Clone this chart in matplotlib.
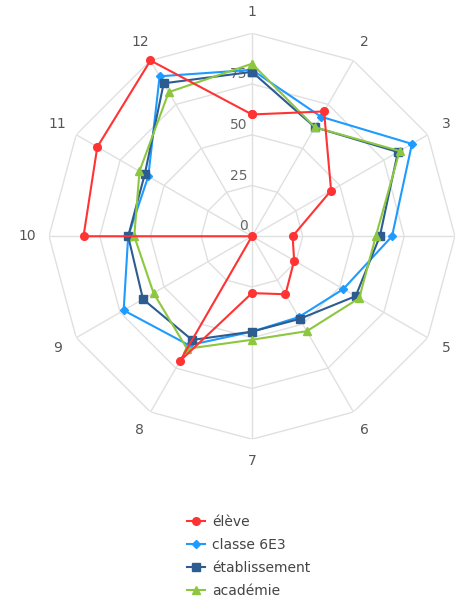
import numpy as np
import matplotlib
matplotlib.use("Agg")
import matplotlib.pyplot as plt

# axes 1..12 and the four series
axes_labels = ["1", "2", "3", "4", "5", "6", "7", "8", "9", "10", "11", "12"]
eleve = [60, 71, 45, 20, 24, 33, 28, 71, 0, 83, 88, 100]
classe = [82, 68, 91, 69, 52, 46, 47, 62, 73, 61, 59, 91]
etablissement = [81, 62, 83, 63, 59, 47, 47, 59, 62, 61, 61, 87]
academie = [85, 62, 84, 61, 61, 54, 51, 64, 56, 58, 64, 82]
ring_ticks = [0, 25, 50, 75, 100]

n = len(axes_labels)
theta = np.arange(n) * 2 * np.pi / n
theta_c = np.append(theta, theta[0])

fig = plt.figure(figsize=(4.71, 6.05), dpi=100)
ax = fig.add_axes([0.104, 0.274, 0.862, 0.671], polar=True)
ax.set_theta_zero_location("N")
ax.set_theta_direction(-1)
ax.set_ylim(0, 100)
ax.grid(False)
ax.spines["polar"].set_visible(False)
ax.set_xticks([])
ax.set_yticks([])
ax.patch.set_alpha(0)

# polygon grid
for r in ring_ticks[1:]:
    ax.plot(theta_c, [r] * (n + 1), color="#e0e0e0", lw=1, zorder=1)
for t in theta:
    ax.plot([t, t], [0, 100], color="#e0e0e0", lw=1, zorder=1)

# ring values along axis 1
for r in ring_ticks[:-1]:
    ax.annotate(str(r), xy=(0, r), xytext=(-3, 2), textcoords="offset points",
                ha="right", va="bottom", fontsize=10, color="#666666")

# axis labels
for t, lab in zip(theta, axes_labels):
    ax.text(t, 110.5, lab, ha="center", va="center", fontsize=10, color="#555555")

series = [
    ("classe 6E3", classe, "#1e9bff", "D", 4),
    ("établissement", etablissement, "#2d5c91", "s", 5.5),
    ("académie", academie, "#8dc63f", "^", 6),
    ("élève", eleve, "#ff3333", "o", 5.5),
]
lines = {}
for i, (name, vals, col, mk, ms) in enumerate(series):
    v = list(vals) + [vals[0]]
    ln, = ax.plot(theta_c, v, color=col, lw=1.5, marker=mk, markersize=ms,
                  zorder=3 + i, clip_on=False)
    lines[name] = ln

order = ["élève", "classe 6E3", "établissement", "académie"]
fig.legend([lines[k] for k in order], order, loc="upper left",
           bbox_to_anchor=(0.385, 0.158), frameon=False, fontsize=10,
           handlelength=1.3, handletextpad=0.5, labelspacing=0.65,
           labelcolor="#444444", borderaxespad=0)

fig.savefig("out.png", dpi=100)
